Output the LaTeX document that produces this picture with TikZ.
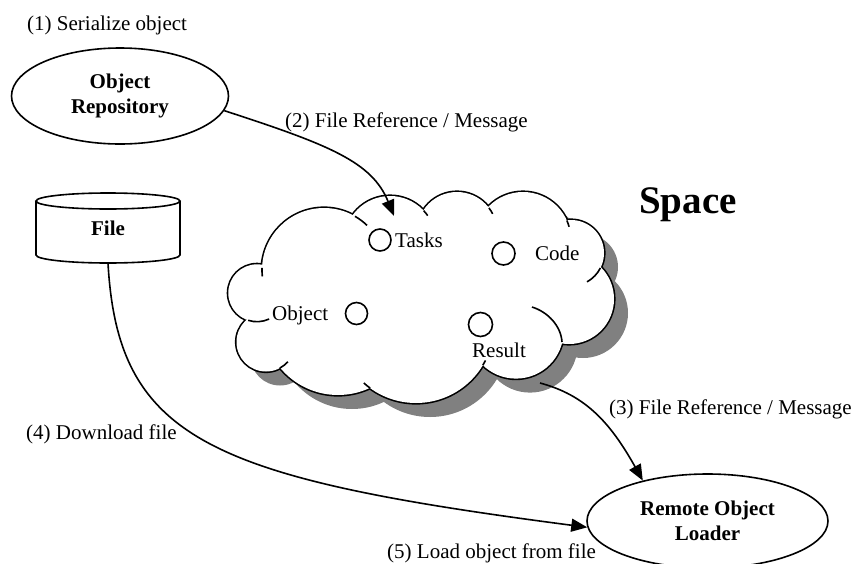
\documentclass[tikz,border=0pt]{standalone}
\usepackage{fontspec}
\setmainfont{Liberation Serif}
\usetikzlibrary{shapes.geometric,arrows.meta}
\begin{document}
\begin{tikzpicture}[x=1pt,y=-1pt,
  lbl/.style={font=\fontsize{21}{25}\selectfont, inner sep=0pt},
  boldlbl/.style={font=\fontsize{21}{25}\selectfont\bfseries, align=center, inner sep=0pt},
  oval/.style={ellipse, draw, line width=1.6pt, fill=white, inner sep=0pt,
               font=\fontsize{21}{25}\selectfont\bfseries, align=center},
  conn/.style={line width=1.6pt, -{Triangle[length=16pt,width=13pt]}},
  ln/.style={line width=1.6pt},
  dot/.style={circle, draw, line width=1.6pt, inner sep=0pt},
  shadowfill/.style={fill=black!50},
]
\useasboundingbox (0,0) rectangle (855,563);

% ---------- cloud (Space) ----------
\def\lobes{324/270/62, 390/242/46, 457/232/40, 523/240/48, 571/253/33,
  569/299/45, 516/331/47.6, 416/325/78, 338/320/75, 266/342/29.5, 257/293/28.7}
% shadow
\begin{scope}[shift={(14,14)}]
  \foreach \cx/\cy/\r in \lobes { \fill[shadowfill] (\cx,\cy) circle[radius=\r]; }
  \fill[shadowfill] (324,270) -- (390,242) -- (457,232) -- (523,240) -- (571,253) -- (569,299)
     -- (516,331) -- (416,325) -- (338,320) -- (266,342) -- (257,293) -- cycle;
\end{scope}
% outline of the union of lobes
\foreach \cx/\cy/\r in \lobes { \draw[line width=3.2pt] (\cx,\cy) circle[radius=\r]; }
\foreach \cx/\cy/\r in \lobes { \fill[white] (\cx,\cy) circle[radius=\r]; }
\fill[white] (324,270) -- (390,242) -- (457,232) -- (523,240) -- (571,253) -- (569,299)
   -- (516,331) -- (416,325) -- (338,320) -- (266,342) -- (257,293) -- cycle;
% inner stubs of the cloud lobes
\draw[ln] (324,270) ++(-60:62) arc[start angle=-60, end angle=-46, radius=62];
\draw[ln] (324,270) ++(182:62) arc[start angle=182, end angle=174, radius=62];
\draw[ln] (390,242) ++(-43:46) arc[start angle=-43, end angle=-35, radius=46];
\draw[ln] (457,232) ++(-37:40) arc[start angle=-37, end angle=-27, radius=40];
\draw[ln] (523,240) ++(-24:48) arc[start angle=-24, end angle=-16, radius=48];
\draw[ln] (571,253) ++(27:33) arc[start angle=27, end angle=61, radius=33];
\draw[ln] (532,307) .. controls (548,312) and (561,326) .. (562,342);
\draw[ln] (416,325) ++(31:78) arc[start angle=31, end angle=27, radius=78];
\draw[ln] (416,325) ++(126:78) arc[start angle=126, end angle=132, radius=78];
\draw[ln] (266,342) ++(62:29.5) arc[start angle=62, end angle=42, radius=29.5];
\draw[ln] (257,293) ++(108:28.7) arc[start angle=108, end angle=65, radius=28.7];

\node[font=\fontsize{39}{46}\selectfont\bfseries, anchor=base, inner sep=0pt] (space) at (688,213) {Space};

\node[dot, minimum size=22pt] (tasksdot) at (380,240) {};
\node[lbl, anchor=base west] (tasks) at (395,247) {Tasks};
\node[dot, minimum size=23pt] (codedot) at (503.5,253.5) {};
\node[lbl, anchor=base west] (code) at (535,260) {Code};
\node[dot, minimum size=22pt] (objdot) at (356.5,313.5) {};
\node[lbl, anchor=base west] (obj) at (272,320) {Object};
\node[dot, minimum size=24pt] (resdot) at (480.5,324.5) {};
\node[lbl, anchor=base west] (res) at (472,357) {Result};

% ---------- file (cylinder) ----------
\draw[ln] (36,201) -- (36,255) arc[start angle=180, end angle=0, x radius=72, y radius=8] -- (180,201);
\draw[ln] (108,201) ellipse[x radius=72, y radius=8];
\node[boldlbl, minimum width=144pt, minimum height=70pt] (file) at (108,228) {File};

% ---------- ellipses ----------
\node[oval, minimum width=217pt, minimum height=96pt] (repo) at (120,96) {Object\\Repository};
\node[oval, minimum width=241pt, minimum height=94pt] (loader) at (707.5,521) {Remote Object\\Loader};

% ---------- labels ----------
\node[lbl, anchor=base west] (l1) at (27,30) {(1) Serialize object};
\node[lbl, anchor=base west] (l2) at (285,127) {(2) File Reference / Message};
\node[lbl, anchor=base west] (l3) at (609,414) {(3) File Reference / Message};
\node[lbl, anchor=base west] (l4) at (26,439) {(4) Download file};
\node[lbl, anchor=base west] (l5) at (387,558) {(5) Load object from file};

% ---------- connectors ----------
\coordinate (cloudin) at (394,216);
\coordinate (cloudout) at (540,383);
\draw[conn] (repo.-8) .. controls (330,145) and (372,162) .. (cloudin);
\draw[conn] (cloudout) .. controls (585,395) and (610,422) .. (loader.148);
\draw[conn] (file.south) .. controls (118,440) and (210,478) .. (loader.183);
\end{tikzpicture}
\end{document}
